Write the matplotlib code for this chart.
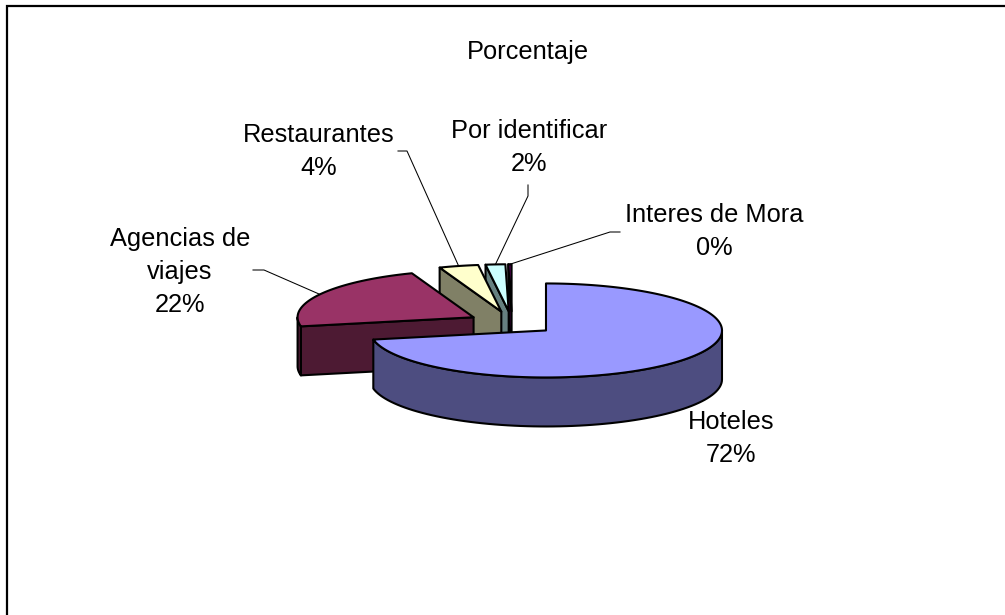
import numpy as np
import matplotlib
matplotlib.use("Agg")
import matplotlib.pyplot as plt
from matplotlib.patches import Polygon

title = "Porcentaje"
categories = ["Hoteles", "Agencias de\nviajes", "Restaurantes", "Por identificar", "Interes de Mora"]
values = [71.9, 22.4, 3.6, 1.8, 0.3]
pct_labels = ["72%", "22%", "4%", "2%", "0%"]
top_colors = ["#9999FF", "#993366", "#FFFFCC", "#CCFFFF", "#660066"]
side_colors = ["#4D4D80", "#4D1A33", "#808066", "#668080", "#330033"]

# layout (pixels)
CX, CY, A, B, DEPTH, EXPLODE = 512, 323, 176, 47, 49, 0.25
LW = 1.5
label_pos = [(731, 462), (180, 312), (319, 175), (529, 171), (714, 255)]
leader_from = [None,
               [(253, 270), (264, 270)],
               [(398, 151), (407, 151)],
               [(528, 185), (528, 196)],
               [(620, 232), (610, 232)]]

plt.rcParams["font.family"] = ["Liberation Sans", "DejaVu Sans"]
fig = plt.figure(figsize=(10.05, 6.15), dpi=100, facecolor="white")
ax = fig.add_axes([0, 0, 1, 1])
ax.set_xlim(0, 1005)
ax.set_ylim(615, 0)
ax.axis("off")

ax.plot([7, 7, 1006], [616, 6, 6], color="black", lw=1.6, solid_joinstyle="miter", zorder=1)

vals = np.array(values, dtype=float)
edges = np.concatenate([[0], np.cumsum(vals) / vals.sum() * 360])


def rim(apex, deg):
    t = np.radians(deg)
    return np.column_stack([apex[0] + A * np.sin(t), apex[1] - B * np.cos(t)])


apexes = []
for i in range(len(vals)):
    mid = np.radians((edges[i] + edges[i + 1]) / 2)
    apexes.append((CX + EXPLODE * A * np.sin(mid), CY - EXPLODE * B * np.cos(mid)))

z = 2
for i in reversed(range(len(vals))):
    s, e = edges[i], edges[i + 1]
    apex = np.array(apexes[i])
    kw = dict(edgecolor="black", linewidth=LW, joinstyle="round")
    down = np.array([0, DEPTH])
    # radial side faces
    for ang, visible in ((s, 180 < s < 360), (e, 0 < e < 180)):
        if visible:
            o = rim(apex, ang)[0]
            ax.add_patch(Polygon([apex, o, o + down, apex + down], facecolor=side_colors[i], zorder=z, **kw))
            z += 1
    # outer rim
    lo, hi = max(s, 90), min(e, 270)
    if hi > lo:
        arc = rim(apex, np.linspace(lo, hi, 80))
        ax.add_patch(Polygon(np.vstack([arc, (arc + down)[::-1]]), facecolor=side_colors[i], zorder=z, **kw))
        z += 1
    # top face
    pts = rim(apex, np.linspace(s, e, max(int(e - s) * 2, 6)))
    ax.add_patch(Polygon(np.vstack([apex, pts]), facecolor=top_colors[i], zorder=z, **kw))
    z += 1

for i, (cat, pct) in enumerate(zip(categories, pct_labels)):
    x, y = label_pos[i]
    ax.text(x, y, f"{cat}\n{pct}", ha="center", va="baseline", multialignment="center",
            fontsize=18.3, color="black", linespacing=1.48, zorder=z + 1)
    if leader_from[i]:
        end = rim(apexes[i], (edges[i] + edges[i + 1]) / 2)[0]
        pts = np.array(leader_from[i] + [tuple(end)])
        ax.plot(pts[:, 0], pts[:, 1], color="black", lw=0.75, zorder=z)

ax.text(528, 58.5, title, ha="center", va="baseline", fontsize=18.3, color="black")

fig.savefig("out.png", dpi=100)
